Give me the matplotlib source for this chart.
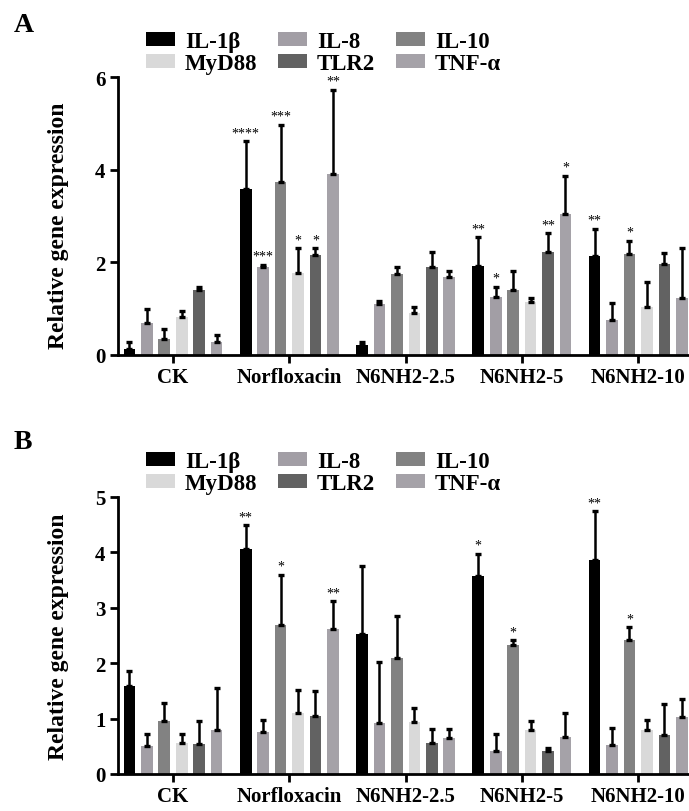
import numpy as np
import matplotlib
matplotlib.use("Agg")
import matplotlib.pyplot as plt

plt.rcParams['font.family'] = ['Liberation Serif', 'DejaVu Serif']
plt.rcParams['font.weight'] = 'bold'

groups = ["CK", "Norfloxacin", "N6NH2-2.5", "N6NH2-5", "N6NH2-10"]
genes = ["IL-1β", "IL-8", "IL-10", "MyD88", "TLR2", "TNF-α"]
colors = ["#000000", "#a29ea5", "#828282", "#d9d9d9", "#626262", "#a5a2a8"]

# panel A : mean and upper error bar top, one row per gene
a_mean = [[0.14, 3.58, 0.22, 1.93, 2.14],
          [0.68, 1.89, 1.09, 1.25, 0.75],
          [0.35, 3.73, 1.74, 1.40, 2.18],
          [0.81, 1.78, 0.90, 1.15, 1.03],
          [1.40, 2.16, 1.89, 2.22, 1.96],
          [0.29, 3.91, 1.68, 3.04, 1.22]]
a_top = [[0.27, 4.61, 0.27, 2.54, 2.73],
         [1.00, 1.95, 1.16, 1.47, 1.13],
         [0.56, 4.97, 1.89, 1.81, 2.47],
         [0.94, 2.30, 1.04, 1.23, 1.58],
         [1.46, 2.30, 2.22, 2.63, 2.20],
         [0.43, 5.73, 1.82, 3.87, 2.30]]
a_stars = [["", "****", "", "**", "**"],
           ["", "***", "", "*", ""],
           ["", "***", "", "", "*"],
           ["", "*", "", "", ""],
           ["", "*", "", "**", ""],
           ["", "**", "", "*", ""]]

# panel B
b_mean = [[1.58, 4.06, 2.53, 3.58, 3.87],
          [0.51, 0.76, 0.92, 0.42, 0.53],
          [0.95, 2.69, 2.09, 2.32, 2.41],
          [0.56, 1.11, 0.94, 0.79, 0.79],
          [0.54, 1.05, 0.56, 0.41, 0.70],
          [0.80, 2.62, 0.65, 0.67, 1.02]]
b_top = [[1.86, 4.49, 3.76, 3.97, 4.74],
         [0.72, 0.98, 2.02, 0.72, 0.83],
         [1.28, 3.60, 2.85, 2.41, 2.65],
         [0.72, 1.52, 1.19, 0.96, 0.98],
         [0.96, 1.49, 0.81, 0.47, 1.26],
         [1.55, 3.12, 0.81, 1.11, 1.35]]
b_stars = [["", "**", "", "*", "**"],
           ["", "", "", "", ""],
           ["", "*", "", "*", "*"],
           ["", "", "", "", ""],
           ["", "", "", "", ""],
           ["", "**", "", "", ""]]

W, H = 689, 812
fig = plt.figure(figsize=(W / 100, H / 100), dpi=100)


def panel(rect, mean, top, stars, ymax, yticks, letter, letter_y, leg_y, lab_y):
    ax = fig.add_axes(rect)
    x = np.arange(len(groups))
    step = 0.15
    handles = []
    for i in range(len(genes)):
        m = np.array(mean[i])
        err = np.array(top[i]) - m
        pos = x + (i - 2.5) * step
        b = ax.bar(pos, m, width=0.1, color=colors[i], label=genes[i], zorder=2)
        handles.append(b)
        ax.errorbar(pos, m, yerr=[np.zeros_like(m), err], fmt='none',
                    ecolor='black', elinewidth=1.8, capsize=2.5, capthick=2.4, zorder=3)
        for j in range(len(groups)):
            if stars[i][j]:
                ax.annotate(stars[i][j], (pos[j], top[i][j]), xytext=(0, 1.5),
                            textcoords='offset points', ha='center', va='bottom',
                            fontsize=10, fontweight='normal')
    ax.set_xlim(-0.473, 4.437)
    ax.set_ylim(0, ymax)
    ax.set_yticks(yticks)
    ax.set_xticks(x)
    ax.set_xticklabels(groups, fontsize=15, fontweight='bold')
    ax.set_yticklabels([str(t) for t in yticks], fontsize=15, fontweight='bold')
    for s in ['top', 'right']:
        ax.spines[s].set_visible(False)
    ax.spines['left'].set_linewidth(2)
    ax.spines['bottom'].set_linewidth(2)
    ax.tick_params(axis='both', width=2, length=6, direction='out', pad=3)
    ax.set_ylabel("Relative gene expression", fontsize=17, fontweight='bold')
    ax.yaxis.set_label_coords(-0.085, lab_y)
    fig.text(14 / W, 1 - letter_y / H, letter, fontsize=20, fontweight='bold', va='center')
    order = [0, 3, 1, 4, 2, 5]
    fig.legend([handles[k] for k in order], [genes[k] for k in order], ncol=3,
               loc='upper left', bbox_to_anchor=(146 / W, 1 - leg_y / H),
               bbox_transform=fig.transFigure, frameon=False,
               prop={'weight': 'bold', 'size': 16.5}, handlelength=1.25, handleheight=0.55,
               handletextpad=0.45, columnspacing=0.9, labelspacing=0.05,
               borderpad=0, borderaxespad=0)
    return ax


left = 118 / W
panel([left, 1 - 356 / H, 1 - left, 278 / H], a_mean, a_top, a_stars, 6, [0, 2, 4, 6],
      "A", 26, 32, 0.468)
panel([left, 1 - 775 / H, 1 - left, 277 / H], b_mean, b_top, b_stars, 5, [0, 1, 2, 3, 4, 5],
      "B", 443, 452, 0.50)

fig.savefig("out.png", dpi=100)
